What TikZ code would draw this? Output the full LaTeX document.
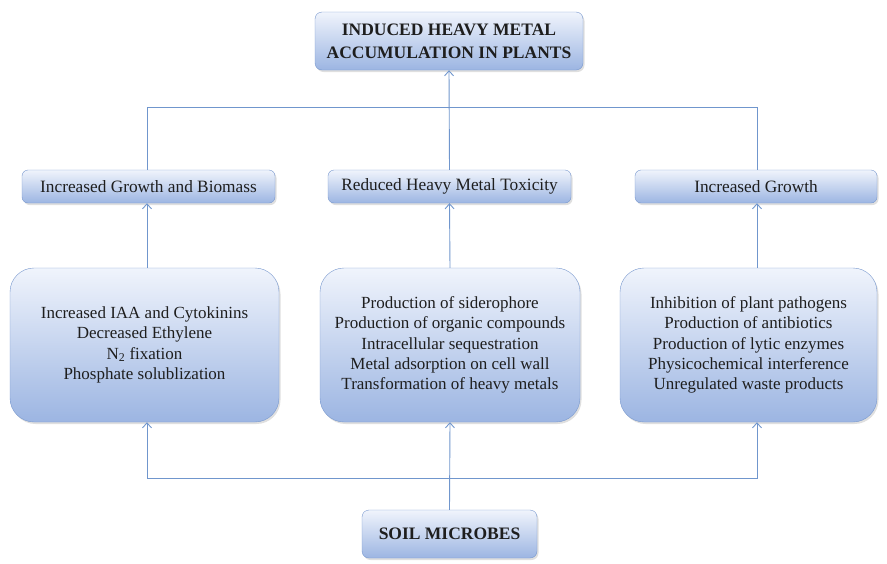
\documentclass[tikz,border=0pt]{standalone}
\usepackage{fontspec}
\setmainfont{Liberation Serif}
\usepackage{tikz}
\usetikzlibrary{positioning,arrows.meta,shadows}
\usepackage{xcolor}
\definecolor{wireblue}{RGB}{112,150,205}
\definecolor{boxline}{RGB}{120,152,206}
\definecolor{boxtop}{RGB}{240,244,252}
\definecolor{boxbot}{RGB}{156,181,226}
\definecolor{inkgray}{RGB}{30,30,30}

\begin{document}
\begin{tikzpicture}[x=1pt,y=-1pt,>={Straight Barb[length=5pt,width=9pt]},
  box/.style={draw=boxline,top color=boxtop,bottom color=boxbot,text=inkgray,align=center,
    drop shadow={opacity=0.25,shadow xshift=1.5pt,shadow yshift=-2pt}},
  headbox/.style={box,rounded corners=7pt,font=\fontsize{17.5}{23}\selectfont\bfseries},
  labelbox/.style={box,rounded corners=6pt,minimum height=33pt,font=\fontsize{17.3}{20}\selectfont},
  listbox/.style={box,rounded corners=24pt,minimum height=154pt,font=\fontsize{17}{20.3}\selectfont},
  wire/.style={draw=wireblue,line width=0.9pt}]
\useasboundingbox (0,0) rectangle (887,563);
% boxes
\node[headbox,minimum width=268pt,minimum height=58pt] (accum) at (449,41) {INDUCED HEAVY METAL\\ACCUMULATION IN PLANTS};
\node[labelbox,minimum width=253pt] (growbio) at (148.5,186.5) {Increased Growth and Biomass};
\node[labelbox,minimum width=243pt] (toxic) at (449.5,186.5) {Reduced Heavy Metal Toxicity};
\node[labelbox,minimum width=242pt] (growth) at (756,186.5) {Increased Growth};
\node[listbox,minimum width=269pt] (hormone) at (144.5,345) {Increased IAA and Cytokinins\\Decreased Ethylene\\N\textsubscript{2} fixation\\Phosphate solublization};
\node[listbox,minimum width=260pt] (metal) at (450,345) {Production of siderophore\\Production of organic compounds\\Intracellular sequestration\\Metal adsorption on cell wall\\Transformation of heavy metals};
\node[listbox,minimum width=257pt] (defence) at (748.5,345) {Inhibition of plant pathogens\\Production of antibiotics\\Production of lytic enzymes\\Physicochemical interference\\Unregulated waste products};
\node[headbox,minimum width=175pt,minimum height=48pt] (microbes) at (449.5,534) {SOIL MICROBES};
% bus corners
\coordinate (topL) at (147,107);
\coordinate (topR) at (757,107);
\coordinate (botL) at (147,478);
\coordinate (botR) at (757,478);
% connectors
\draw[wire,->] (toxic.north) -- (accum.south);
\draw[wire] (growbio.north -| topL) -- (topL) -- (topR) -- (growth.north -| topR);
\draw[wire,->] (hormone.north -| topL) -- (growbio.south -| topL);
\draw[wire,->] (metal.north) -- (toxic.south);
\draw[wire,->] (defence.north -| topR) -- (growth.south -| topR);
\draw[wire,->] (microbes.north) -- (metal.south);
\draw[wire,<->] (hormone.south -| botL) -- (botL) -- (botR) -- (defence.south -| botR);
\end{tikzpicture}
\end{document}
